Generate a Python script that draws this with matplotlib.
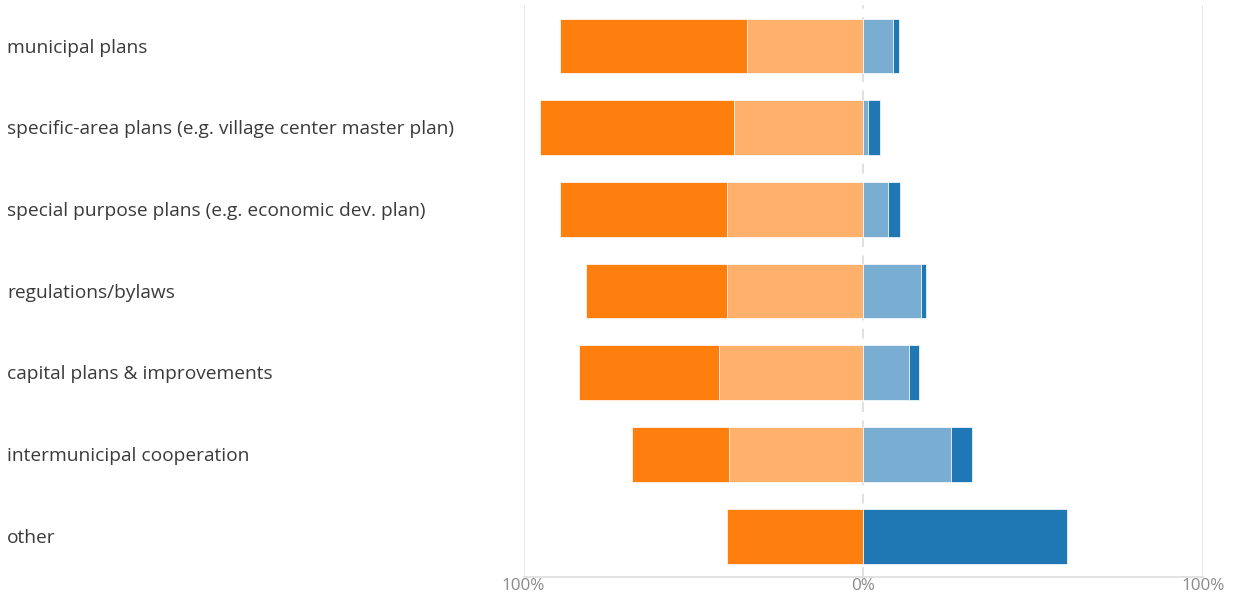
import matplotlib as mpl
import matplotlib.pyplot as plt
import numpy as np

categories = ['municipal plans',
              'specific-area plans (e.g. village center master plan)',
              'special purpose plans (e.g. economic dev. plan)',
              'regulations/bylaws',
              'capital plans & improvements',
              'intermunicipal cooperation',
              'other']

# shares in percent, outer-left / inner-left / inner-right / outer-right
dark_orange = [55.1, 57.1, 49.1, 41.5, 41.0, 28.5, 40.1]
light_orange = [34.1, 38.0, 40.1, 40.1, 42.6, 39.6, 0.0]
light_blue = [8.8, 1.4, 7.4, 17.0, 13.4, 25.9, 0.0]
dark_blue = [1.6, 3.5, 3.5, 1.5, 2.9, 6.0, 59.9]

tick_vals = [-100, 0, 100]
tick_labels = ['100%', '0%', '100%']

mpl.rcParams['font.family'] = ['Open Sans', 'DejaVu Sans']

fig = plt.figure(figsize=(12.33, 5.98), dpi=100)
ax = fig.add_axes([0.4247, 0.0351, 0.5508, 0.9565])

y = np.arange(len(categories))
h = 0.67
lo = np.array(light_orange)
do = np.array(dark_orange)
lb = np.array(light_blue)
db = np.array(dark_blue)

kw = dict(height=h, edgecolor='white', linewidth=0.5, zorder=3)
ax.barh(y, -lo, left=0, color='#ffb06b', **kw)
ax.barh(y, -do, left=-lo, color='#ff7f0e', **kw)
ax.barh(y, lb, left=0, color='#7aadd2', **kw)
ax.barh(y, db, left=lb, color='#1f77b4', **kw)

ax.set_xlim(-100, 100)
ax.set_ylim(6.5, -0.5)

ax.axvline(-100, color='#e4e4e4', lw=1.2, zorder=1)
ax.axvline(100, color='#e4e4e4', lw=1.2, zorder=1)
ax.axvline(0, color='#dcdcdc', lw=1.2, ls=(0, (6, 5)), zorder=1)

for s in ['top', 'left', 'right']:
    ax.spines[s].set_visible(False)
ax.spines['bottom'].set_color('#dddddd')
ax.spines['bottom'].set_linewidth(1.2)

ax.set_xticks(tick_vals)
ax.set_xticklabels(tick_labels, fontsize=12.3, color='#8a8a8a')
ax.tick_params(axis='x', length=0, pad=1)
ax.set_yticks([])

trans = mpl.transforms.blended_transform_factory(fig.transFigure, ax.transData)
for yi, c in zip(y, categories):
    ax.text(7 / 1233, yi + 0.02, c, transform=trans, ha='left', va='center',
            fontsize=13.8, color='#3a3a3a', clip_on=False)

fig.savefig('out.png', dpi=100)
